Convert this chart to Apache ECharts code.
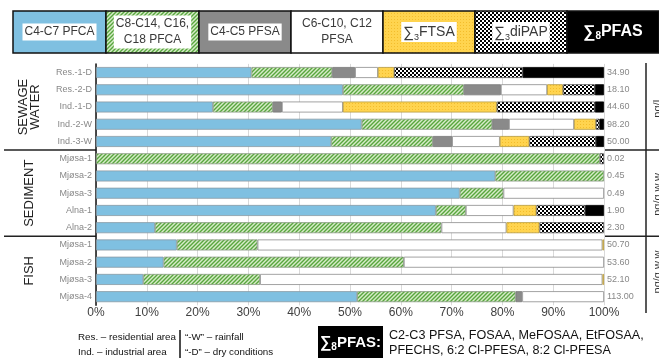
<!DOCTYPE html>
<html>
<head>
<meta charset="utf-8">
<script src="https://cdn.jsdelivr.net/npm/echarts@6/dist/echarts.min.js"></script>
<style>
  html, body { margin: 0; padding: 0; background: #fff; }
  #chart { width: 659px; height: 358px; }
</style>
</head>
<body>
<div id="chart"></div>
<script>
// Sample rows, top to bottom
const rowLabels = ['Res.-1-D', 'Res.-2-D', 'Ind.-1-D', 'Ind.-2-W', 'Ind.-3-W',
  'Mjøsa-1', 'Mjøsa-2', 'Mjøsa-3', 'Alna-1', 'Alna-2',
  'Mjøsa-1', 'Mjøsa-2', 'Mjøsa-3', 'Mjøsa-4'];
// Total PFAS concentration per sample
const totals = [34.90, 18.10, 44.60, 98.20, 50.00, 0.02, 0.45, 0.49, 1.90, 2.30, 50.70, 53.60, 52.10, 113.00];

// Matrix groups
const groupNames = ['SEWAGE\nWATER', 'SEDIMENT', 'FISH'];
const groupSizes = [5, 5, 4];
const groupUnits = ['ng/L', 'ng/g w.w.', 'ng/g w.w.'];

// Percentage axis
const pctMin = 0, pctMax = 100, pctStep = 10;

// Share of each compound class (%)
const c4c7Pfca   = [30.6, 48.6, 23.0, 52.3, 46.3, 0, 78.6, 71.6, 66.9, 11.6, 15.9, 13.3, 9.3, 51.4];
const c8c18Pfca  = [15.9, 23.8, 11.8, 25.7, 20.0, 99.2, 21.4, 8.6, 5.9, 56.4, 15.9, 47.3, 23.0, 31.2];
const c4c5Pfsa   = [4.5, 7.3, 1.8, 3.3, 3.8, 0, 0, 0, 0, 0, 0, 0, 0, 1.3];
const c6c12Pfsa  = [4.5, 9.1, 12.0, 12.8, 9.4, 0, 0, 19.8, 9.4, 12.8, 67.9, 39.4, 67.4, 16.1];
const ftsa       = [3.2, 3.1, 30.3, 4.3, 5.8, 0, 0, 0, 4.5, 6.5, 0.3, 0, 0.3, 0];
const dipap      = [25.3, 6.3, 19.3, 0.7, 13.1, 0.8, 0, 0, 9.6, 12.7, 0, 0, 0, 0];
const pfas8      = [16.0, 1.8, 1.8, 0.9, 1.6, 0, 0, 0, 3.7, 0, 0, 0, 0, 0];

const seriesNames = ['C4-C7 PFCA', 'C8-C14, C16, C18 PFCA', 'C4-C5 PFSA', 'C6-C10, C12 PFSA', '∑3FTSA', '∑3diPAP', '∑8PFAS'];
const seriesValues = [c4c7Pfca, c8c18Pfca, c4c5Pfsa, c6c12Pfsa, ftsa, dipap, pfas8];

// ---------- fill patterns ----------
function makePattern(w, h, draw) {
  const c = document.createElement('canvas');
  c.width = w; c.height = h;
  draw(c.getContext('2d'));
  return { image: c, repeat: 'repeat' };
}
const hatchGreen = makePattern(4, 4, g => {
  g.fillStyle = '#d6ecc8'; g.fillRect(0, 0, 4, 4);
  g.strokeStyle = '#58a63e'; g.lineWidth = 1.4;
  g.beginPath();
  g.moveTo(-1, 5); g.lineTo(5, -1);
  g.moveTo(-3, 3); g.lineTo(3, -3);
  g.moveTo(1, 7); g.lineTo(7, 1);
  g.stroke();
});
const dotYellow = makePattern(3, 3, g => {
  g.fillStyle = '#ffd44f'; g.fillRect(0, 0, 3, 3);
  g.fillStyle = '#f3bd2c'; g.fillRect(1, 1, 1, 1);
});
const checker = makePattern(4, 4, g => {
  g.fillStyle = '#ffffff'; g.fillRect(0, 0, 4, 4);
  g.fillStyle = '#000000'; g.fillRect(0, 0, 2, 2); g.fillRect(2, 2, 2, 2);
});
const fills = ['#7fc0e1', hatchGreen, '#8a8a8a', '#ffffff', dotYellow, checker, '#000000'];
const borders = ['#8a9aa4', '#8a9a84', '#7a7a7a', '#8c8c8c', '#b59a40', '#555555', '#000000'];

// ---------- layout ----------
const W = 659;
const gridLeft = 96, gridRight = 604, gridTop = 63.9, gridBottom = 305.3;
const rowH = (gridBottom - gridTop) / rowLabels.length;
const FONT = '"Liberation Sans", Arial, Helvetica, sans-serif';

const graphics = [];

// Top legend boxes
const legendX = [13, 106, 199, 291, 383, 475, 567, W];
const legendTexts = [
  { text: 'C4-C7 PFCA', bg: true },
  { text: 'C8-C14, C16,\nC18 PFCA', bg: true, small: true },
  { text: 'C4-C5 PFSA', bg: true },
  { text: 'C6-C10, C12\nPFSA', bg: false, small: true },
  { text: '{sig|∑}{sub|3}{t|FTSA}', bg: true, rich: true },
  { text: '{sig|∑}{sub|3}{t|diPAP}', bg: true, rich: true },
  { text: '{sig|∑}{sub|8}{t|PFAS}', bg: false, rich: true, dark: true }
];
for (let i = 0; i < 7; i++) {
  const x0 = legendX[i], x1 = legendX[i + 1];
  graphics.push({
    type: 'rect', z: 10,
    shape: { x: x0, y: 11, width: x1 - x0, height: 42 },
    style: { fill: fills[i], stroke: '#111', lineWidth: 1.5 }
  });
  const lt = legendTexts[i];
  const txtColor = lt.dark ? '#ffffff' : '#3a3a3a';
  const weight = lt.dark ? 'bold' : 'normal';
  const style = {
    text: lt.text,
    fill: txtColor,
    font: (lt.small ? '13px ' : '14px ') + FONT,
    fontWeight: weight,
    align: 'center', verticalAlign: 'middle',
    textAlign: 'center', textVerticalAlign: 'middle',
    lineHeight: 16
  };
  if (lt.bg) { style.backgroundColor = '#ffffff'; style.padding = [1, 2, 0, 2]; }
  if (lt.rich) {
    const fs = lt.dark ? 16 : 14;
    style.rich = {
      sig: { fontSize: fs + 1, fontFamily: FONT, fill: txtColor, fontWeight: weight, lineHeight: 19 },
      sub: { fontSize: lt.dark ? 10 : 9, fontFamily: FONT, fill: txtColor, fontWeight: weight, lineHeight: 9, verticalAlign: 'bottom' },
      t: { fontSize: fs, fontFamily: FONT, fill: txtColor, fontWeight: weight, lineHeight: 19 }
    };
  }
  graphics.push({ type: 'text', z: 11, x: (x0 + x1) / 2, y: 32, style });
}

// Group labels, separators and units
let startRow = 0;
groupSizes.forEach((n, gi) => {
  const yTop = gridTop + startRow * rowH;
  const yBot = gridTop + (startRow + n) * rowH;
  const yMid = (yTop + yBot) / 2;
  graphics.push({
    type: 'text', x: 29, y: yMid, rotation: Math.PI / 2,
    style: {
      text: groupNames[gi], fill: '#222', font: '13px ' + FONT,
      align: 'center', verticalAlign: 'middle', textAlign: 'center', textVerticalAlign: 'middle',
      lineHeight: 12
    }
  });
  graphics.push({
    type: 'text', x: 657.5, y: yMid, rotation: Math.PI / 2,
    style: {
      text: groupUnits[gi], fill: '#333', font: '11px ' + FONT,
      align: 'center', verticalAlign: 'middle', textAlign: 'center', textVerticalAlign: 'middle'
    }
  });
  if (gi < groupSizes.length - 1) {
    graphics.push({ type: 'line', shape: { x1: 4, y1: yBot, x2: gridLeft, y2: yBot }, style: { stroke: '#222', lineWidth: 1.5 } });
    graphics.push({ type: 'line', shape: { x1: gridRight, y1: yBot, x2: W, y2: yBot }, style: { stroke: '#222', lineWidth: 1.5 } });
  }
  startRow += n;
});
graphics.push({ type: 'line', shape: { x1: 646, y1: gridTop - 1, x2: 646, y2: 313 }, style: { stroke: '#222', lineWidth: 1.5 } });

// Bottom notes
const noteFont = '9.8px ' + FONT;
graphics.push({ type: 'text', x: 78, y: 337, style: { text: 'Res. – residential area', fill: '#111', font: noteFont, verticalAlign: 'middle', textVerticalAlign: 'middle' } });
graphics.push({ type: 'text', x: 78, y: 352, style: { text: 'Ind. – industrial area', fill: '#111', font: noteFont, verticalAlign: 'middle', textVerticalAlign: 'middle' } });
graphics.push({ type: 'line', shape: { x1: 180, y1: 330, x2: 180, y2: 358 }, style: { stroke: '#111', lineWidth: 1.5 } });
graphics.push({ type: 'text', x: 185, y: 337, style: { text: '“-W” – rainfall', fill: '#111', font: noteFont, verticalAlign: 'middle', textVerticalAlign: 'middle' } });
graphics.push({ type: 'text', x: 185, y: 352, style: { text: '“-D” – dry conditions', fill: '#111', font: noteFont, verticalAlign: 'middle', textVerticalAlign: 'middle' } });
graphics.push({ type: 'rect', shape: { x: 318, y: 326, width: 65, height: 34 }, style: { fill: '#000' } });
graphics.push({
  type: 'text', x: 350.5, y: 343,
  style: {
    text: '{sig|∑}{sub|8}{t|PFAS:}', fill: '#fff',
    align: 'center', verticalAlign: 'middle', textAlign: 'center', textVerticalAlign: 'middle',
    rich: {
      sig: { fontSize: 16, fontFamily: FONT, fontWeight: 'bold', fill: '#fff', lineHeight: 19 },
      sub: { fontSize: 10, fontFamily: FONT, fontWeight: 'bold', fill: '#fff', lineHeight: 9, verticalAlign: 'bottom' },
      t: { fontSize: 15, fontFamily: FONT, fontWeight: 'bold', fill: '#fff', lineHeight: 19 }
    }
  }
});
const pfasNoteFont = '12.6px ' + FONT;
graphics.push({ type: 'text', x: 389, y: 336, style: { text: 'C2-C3 PFSA, FOSAA, MeFOSAA, EtFOSAA,', fill: '#111', font: pfasNoteFont, verticalAlign: 'middle', textVerticalAlign: 'middle' } });
graphics.push({ type: 'text', x: 389, y: 351, style: { text: 'PFECHS, 6:2 Cl-PFESA, 8:2 Cl-PFESA', fill: '#111', font: pfasNoteFont, verticalAlign: 'middle', textVerticalAlign: 'middle' } });

const rowIds = rowLabels.map((_, i) => String(i));

const option = {
  animation: false,
  backgroundColor: '#ffffff',
  grid: { left: gridLeft, right: W - gridRight, top: gridTop, bottom: 358 - gridBottom, containLabel: false },
  xAxis: {
    type: 'value', min: pctMin, max: pctMax, interval: pctStep,
    axisLine: { show: false }, axisTick: { show: false },
    splitLine: { show: true, lineStyle: { color: '#d9d9d9', width: 1 } },
    axisLabel: { formatter: v => v + '%', color: '#404040', fontSize: 12, fontFamily: FONT, margin: 1 }
  },
  yAxis: [
    {
      type: 'category', data: rowIds, inverse: true,
      axisLine: { show: true, lineStyle: { color: '#111', width: 1.5 } },
      axisTick: { show: false },
      axisLabel: { formatter: (v, i) => rowLabels[i], color: '#888', fontSize: 9, fontFamily: FONT, margin: 4 }
    },
    {
      type: 'category', data: rowIds, inverse: true, position: 'right',
      axisLine: { show: false }, axisTick: { show: false },
      axisLabel: { formatter: (v, i) => totals[i].toFixed(2), color: '#888', fontSize: 9, fontFamily: FONT, margin: 3 }
    }
  ],
  series: seriesNames.map((name, si) => ({
    name, type: 'bar', stack: 'total', yAxisIndex: 0, barWidth: 11,
    itemStyle: { color: fills[si], borderColor: borders[si], borderWidth: 0.8 },
    data: seriesValues[si].map(v => (v > 0 ? v : null))
  })),
  graphic: graphics
};

const chart = echarts.init(document.getElementById('chart'), null, { renderer: 'canvas' });
chart.setOption(option);
</script>
</body>
</html>
